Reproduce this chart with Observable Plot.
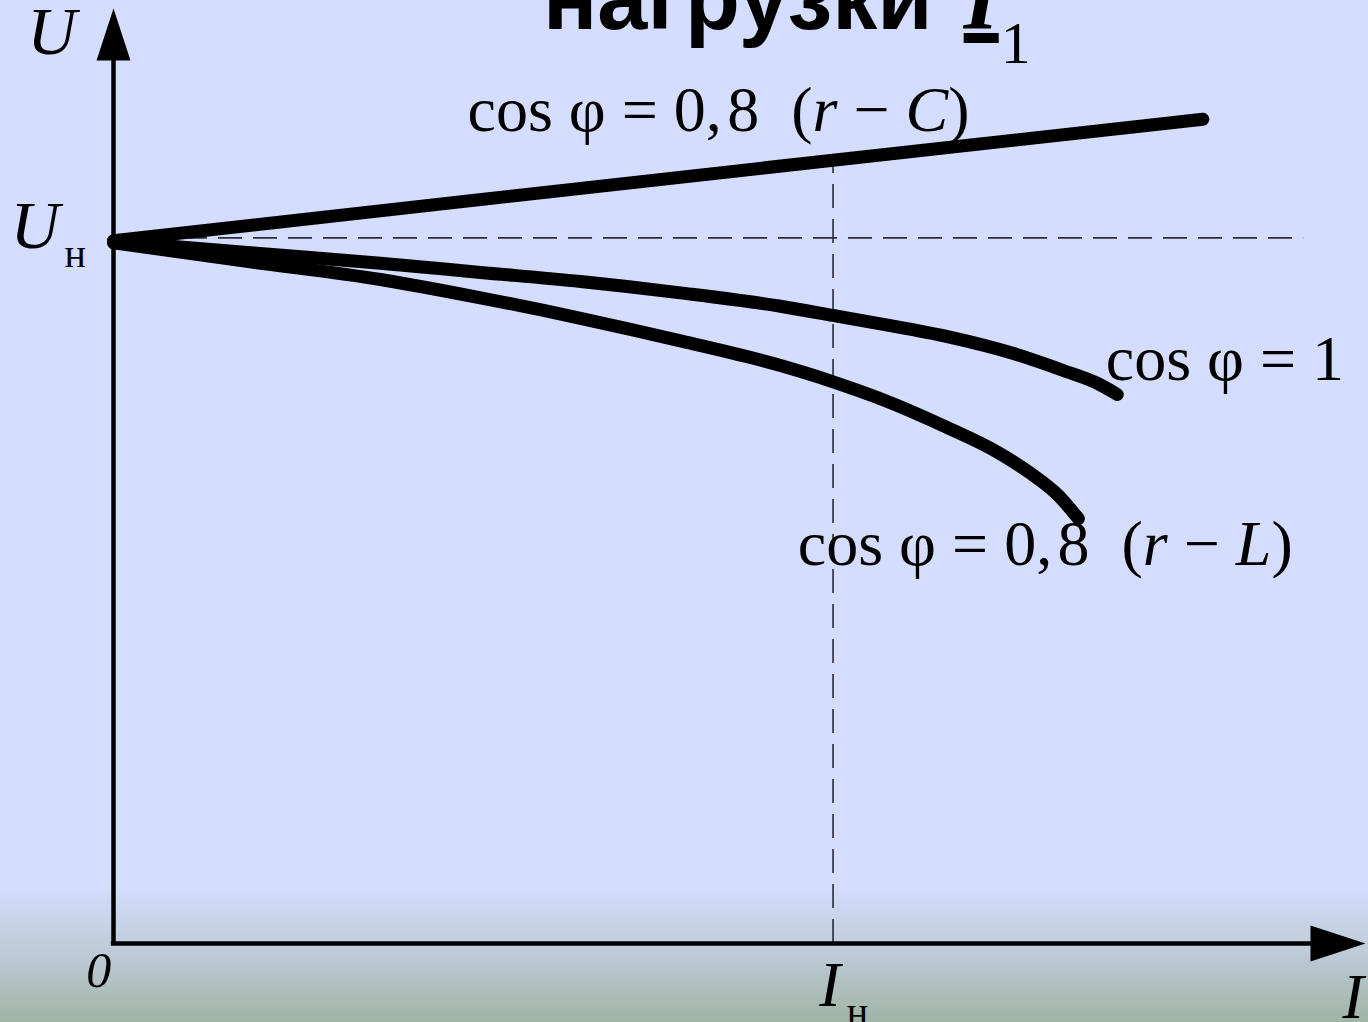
<!DOCTYPE html>
<html>
<head>
<meta charset="utf-8">
<script src="https://cdn.jsdelivr.net/npm/d3@7"></script>
<script src="https://cdn.jsdelivr.net/npm/@observablehq/plot@0.6"></script>
<style>
  html, body { margin: 0; padding: 0; }
  body {
    width: 1368px; height: 1022px; overflow: hidden;
    background: linear-gradient(to bottom, #d4ddfd 0px, #d4ddfd 885px, #bdcad6 955px, #a0b4a4 1022px);
  }
  #wrap { position: relative; width: 1368px; height: 1022px; }
  #chart svg { display: block; background: transparent; overflow: visible; }
  #chart text { white-space: pre; }
  #title {
    position: absolute; left: 543px; top: -47px;
    font: bold 90px "Liberation Sans", Arial, sans-serif;
    line-height: 90px; white-space: nowrap; color: #000;
  }
  #title .cur {
    font: italic bold 90px "Liberation Serif", "Times New Roman", serif;
    line-height: 0; margin-left: 6px;
    text-decoration: underline; text-decoration-thickness: 10px; text-underline-offset: 4px;
  }
  #title .sub {
    font: 60px "Liberation Serif", "Times New Roman", serif;
    line-height: 0; position: relative; top: 34px; margin-left: 2px;
  }
</style>
</head>
<body>
<div id="wrap">
  <div id="chart"></div>
  <div id="title">нагрузки <span class="cur">I</span><span class="sub">1</span></div>
</div>
<script>
// Load characteristic U(I) of a transformer, in units of rated current I_н and rated voltage U_н.

// cos φ = 0,8, capacitive load (r − C)
const currentRC = [0, 1.0, 1.514];
const voltageRC = [0.996, 1.110, 1.168];

// cos φ = 1, resistive load
const currentUnity = [0, 0.190, 0.371, 0.510, 0.649, 0.788, 0.927, 1.000, 1.066, 1.159, 1.251, 1.320, 1.367, 1.395];
const voltageUnity = [0.995, 0.979, 0.964, 0.951, 0.938, 0.922, 0.903, 0.890, 0.878, 0.860, 0.836, 0.812, 0.794, 0.778];

// cos φ = 0,8, inductive load (r − L)
const currentRL = [0, 0.190, 0.371, 0.510, 0.649, 0.788, 0.927, 1.000, 1.066, 1.159, 1.229, 1.275, 1.313, 1.341];
const voltageRL = [0.993, 0.966, 0.941, 0.915, 0.886, 0.854, 0.819, 0.796, 0.772, 0.731, 0.696, 0.666, 0.635, 0.602];

// Curve labels: text runs, the flag marks italic runs
const labelCurrent = [0.492, 1.379, 0.951];
const labelVoltage = [1.151, 0.798, 0.536];
const labelParts = [
  [["cos φ = 0,\u200A8  (", 0], ["r", 1], [" − ", 0], ["C", 1], [")", 0]],
  [["cos φ = 1", 0]],
  [["cos φ = 0,\u200A8  (", 0], ["r", 1], [" − ", 0], ["L", 1], [")", 0]]
];

// Axis symbols
const symbolText = ["U", "U", "0", "I", "I"];
const symbolCurrent = [-0.120, -0.143, -0.038, 0.981, 1.708];
const symbolVoltage = [1.260, 0.986, -0.062, -0.089, -0.105];
const symbolSize = [68, 68, 50, 64, 64];
const subscriptText = ["н", "н"];
const subscriptCurrent = [-0.068, 1.019];
const subscriptVoltage = [0.959, -0.115];

// Reference levels
const ratedCurrent = 1;
const ratedVoltage = 1;
const dashEnd = 1.654;
const axisEnd = { I: 1.74, U: 1.325 };

const toPoints = (xs, ys) => xs.map((I, i) => ({ I, U: ys[i] }));
const seriesRC = toPoints(currentRC, voltageRC);
const seriesUnity = toPoints(currentUnity, voltageUnity);
const seriesRL = toPoints(currentRL, voltageRL);
const curveLabels = labelCurrent.map((I, i) => ({ I, U: labelVoltage[i], parts: labelParts[i] }));
const joinParts = d => d.parts.map(p => p[0]).join("");
const symbols = symbolText.map((t, i) => ({ t, I: symbolCurrent[i], U: symbolVoltage[i], s: symbolSize[i] }));
const subscripts = subscriptText.map((t, i) => ({ t, I: subscriptCurrent[i], U: subscriptVoltage[i] }));

// Elongated filled arrowheads, tip at the anchor point
const arrowUp = {
  draw(ctx, size) {
    const k = Math.sqrt(size / Math.PI) / 10;
    ctx.moveTo(0, 0); ctx.lineTo(-17 * k, 52 * k); ctx.lineTo(17 * k, 52 * k); ctx.closePath();
  }
};
const arrowRight = {
  draw(ctx, size) {
    const k = Math.sqrt(size / Math.PI) / 10;
    ctx.moveTo(0, 0); ctx.lineTo(-55 * k, -18 * k); ctx.lineTo(-55 * k, 18 * k); ctx.closePath();
  }
};

const serif = "Liberation Serif, Times New Roman, serif";
const dash = { stroke: "#2b2b3a", strokeWidth: 1.6, strokeDasharray: "24,11" };
const curveStyle = { x: "I", y: "U", curve: "monotone-x", stroke: "black", strokeWidth: 13, strokeLinecap: "round", strokeLinejoin: "round" };

const chart = Plot.plot({
  width: 1368,
  height: 1022,
  marginLeft: 113,
  marginRight: 3,
  marginTop: 8,
  marginBottom: 79,
  x: { domain: [0, axisEnd.I], axis: null },
  y: { domain: [0, axisEnd.U], axis: null },
  style: { background: "transparent", overflow: "visible" },
  marks: [
    // dashed guides at rated voltage and rated current
    Plot.ruleY([ratedVoltage], { x1: 0, x2: dashEnd, ...dash }),
    Plot.ruleX([ratedCurrent], { y1: 0, y2: voltageRC[1], ...dash }),
    // axes with arrowheads
    Plot.ruleX([0], { y1: 0, y2: 1.252, stroke: "black", strokeWidth: 4.5 }),
    Plot.ruleY([0], { x1: -0.003, x2: 1.665, stroke: "black", strokeWidth: 4.5 }),
    Plot.dot([{ I: 0, U: axisEnd.U }], { x: "I", y: "U", symbol: arrowUp, r: 10, fill: "black", stroke: "none" }),
    Plot.dot([{ I: axisEnd.I, U: 0 }], { x: "I", y: "U", symbol: arrowRight, r: 10, fill: "black", stroke: "none" }),
    // load characteristics
    Plot.line(seriesRC, curveStyle),
    Plot.line(seriesUnity, curveStyle),
    Plot.line(seriesRL, curveStyle),
    // labels
    Plot.text(curveLabels, {
      x: "I", y: "U", text: joinParts,
      textAnchor: "start", lineAnchor: "bottom", fontSize: 64, fontFamily: serif, fill: "black"
    }),
    Plot.text(symbols, {
      x: "I", y: "U", text: "t", fontSize: "s", fontStyle: "italic",
      textAnchor: "start", lineAnchor: "bottom", fontFamily: serif, fill: "black"
    }),
    Plot.text(subscripts, {
      x: "I", y: "U", text: "t", fontSize: 40,
      textAnchor: "start", lineAnchor: "bottom", fontFamily: serif, fill: "black"
    })
  ]
});

// italic runs inside the curve labels
const partsByText = new Map(curveLabels.map(d => [joinParts(d), d.parts]));
d3.select(chart).selectAll("text").each(function () {
  const parts = partsByText.get(this.textContent);
  if (!parts || parts.length < 2) return;
  const t = d3.select(this);
  t.text(null);
  for (const [s, it] of parts) {
    t.append("tspan").attr("font-style", it ? "italic" : null).text(s);
  }
});

document.getElementById("chart").appendChild(chart);
</script>
</body>
</html>
